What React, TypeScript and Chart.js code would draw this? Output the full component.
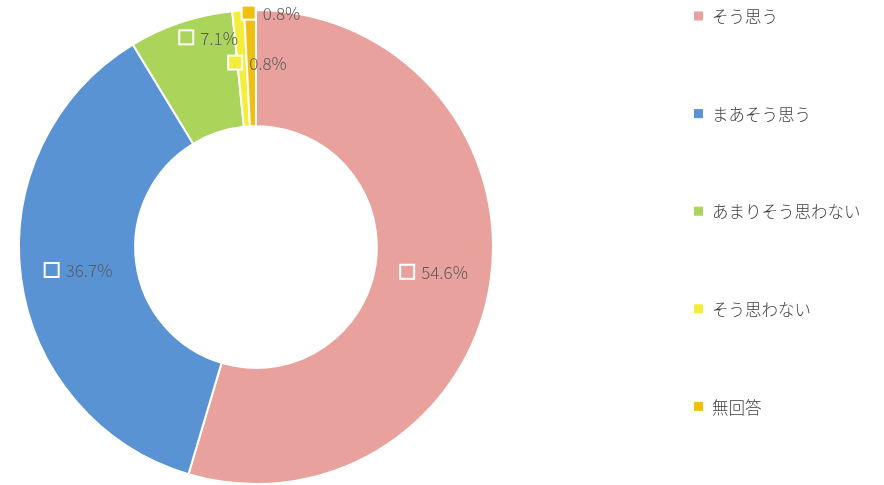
import React, { useEffect, useRef } from "react";
import { Chart, registerables } from "chart.js";

Chart.register(...registerables);

const categories = ["そう思う", "まあそう思う", "あまりそう思わない", "そう思わない", "無回答"];
const values = [54.6, 36.7, 7.1, 0.8, 0.8];
const valueLabels = ["54.6%", "36.7%", "7.1%", "0.8%", "0.8%"];
const colors = ["#E8A19C", "#5A93D4", "#AAD45A", "#F3EE3A", "#F0C010"];

// label placement tweaks (pixels) for small slices
const labelNudges: [number, number][] = [
  [1, -1],
  [0, 0],
  [9.5, -40],
  [15, -6],
  [19.5, -55.5],
];

const NUM_FONT = '300 17px "Noto Sans CJK JP", "Noto Sans", sans-serif';
const LEG_FONT = '300 16.5px "Noto Sans CJK JP", "Noto Sans", sans-serif';

const labelPlugin = {
  id: "sliceLabels",
  afterDatasetsDraw(chart: any) {
    const ctx = chart.ctx;
    const meta = chart.getDatasetMeta(0);
    ctx.save();
    ctx.font = NUM_FONT;
    ctx.textBaseline = "middle";
    meta.data.forEach((arc: any, i: number) => {
      const p = arc.getProps(["x", "y", "startAngle", "endAngle", "innerRadius", "outerRadius"], true);
      const mid = (p.startAngle + p.endAngle) / 2;
      const r = (p.innerRadius + p.outerRadius) / 2;
      const cx = p.x + Math.cos(mid) * r + labelNudges[i][0];
      const cy = p.y + Math.sin(mid) * r + labelNudges[i][1];
      const box = 14;
      const gap = 7;
      const tw = ctx.measureText(valueLabels[i]).width;
      const total = box + gap + tw;
      const left = cx - total / 2;
      ctx.fillStyle = colors[i];
      ctx.fillRect(left, cy - box / 2, box, box);
      ctx.strokeStyle = "#ffffff";
      ctx.lineWidth = 2;
      ctx.strokeRect(left, cy - box / 2, box, box);
      ctx.fillStyle = "#5a5a5a";
      ctx.textAlign = "left";
      ctx.fillText(valueLabels[i], left + box + gap, cy + 1);
    });
    ctx.restore();
  },
};

const legendPlugin = {
  id: "sideLegend",
  afterDraw(chart: any) {
    const ctx = chart.ctx;
    const legendX = 694;
    const legendTop = 16;
    const legendGap = 97.6;
    ctx.save();
    ctx.font = LEG_FONT;
    ctx.textBaseline = "middle";
    ctx.textAlign = "left";
    categories.forEach((c, i) => {
      const y = legendTop + i * legendGap;
      ctx.fillStyle = colors[i];
      ctx.fillRect(legendX, y - 4.5, 9, 9);
      ctx.fillStyle = "#404040";
      ctx.fillText(c, legendX + 18, y + 1);
    });
    ctx.restore();
  },
};

export default function App() {
  const ref = useRef<HTMLCanvasElement | null>(null);
  useEffect(() => {
    document.body.style.margin = "0";
    const chart = new Chart(ref.current!, {
      type: "doughnut",
      data: {
        labels: categories,
        datasets: [
          {
            data: values,
            backgroundColor: colors,
            borderColor: "#ffffff",
            borderWidth: 2,
          },
        ],
      },
      options: {
        responsive: false,
        animation: false,
        cutout: "51%",
        layout: { padding: { left: 17, right: 389, top: 9, bottom: -2 } },
        plugins: {
          legend: { display: false },
          tooltip: { enabled: false },
        },
      },
      plugins: [labelPlugin, legendPlugin],
    });
    return () => chart.destroy();
  }, []);
  return (
    <div style={{ width: 884, height: 485, background: "#ffffff" }}>
      <canvas ref={ref} width={884} height={485} style={{ display: "block" }} />
    </div>
  );
}
